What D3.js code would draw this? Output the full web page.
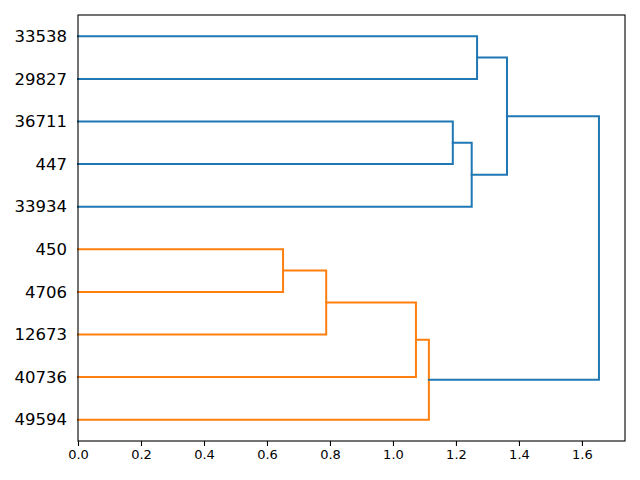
<!DOCTYPE html>
<html>
<head>
<meta charset="utf-8">
<script src="https://cdn.jsdelivr.net/npm/d3@7"></script>
<style>
  html, body { margin: 0; padding: 0; background: #fff; }
  svg { display: block; }
  text { font-family: "DejaVu Sans", sans-serif; }
</style>
</head>
<body>
<svg id="chart" width="640" height="480"></svg>
<script>
// Leaf labels, top to bottom
const leafLabels = ["33538", "29827", "36711", "447", "33934", "450", "4706", "12673", "40736", "49594"];
// Merges: node ids 0..9 are leaves, merges get ids 10, 11, ...
const mergeA = [0, 2, 11, 10, 5, 14, 15, 16, 13];
const mergeB = [1, 3, 4, 12, 6, 7, 8, 9, 17];
const mergeHeight = [1.267, 1.190, 1.250, 1.362, 0.651, 0.788, 1.073, 1.114, 1.654];
const mergeGroup = ["C0", "C0", "C0", "C0", "C1", "C1", "C1", "C1", "C0"];
const xTicks = [0.0, 0.2, 0.4, 0.6, 0.8, 1.0, 1.2, 1.4, 1.6];

const colors = { C0: "#1f77b4", C1: "#ff7f0e" };

const svg = d3.select("#chart");
const mLeft = 78, mRight = 625, mTop = 15, mBottom = 441;
const nLeaves = leafLabels.length;
const xMax = d3.max(mergeHeight) * 1.05;

const x = d3.scaleLinear().domain([0, xMax]).range([mLeft, mRight]);
const y = d3.scaleLinear().domain([0, nLeaves * 10]).range([mBottom, mTop]);

// positions
const pos = [], hgt = [];
leafLabels.forEach((l, i) => { pos[i] = (nLeaves * 10 - 5) - 10 * i; hgt[i] = 0; });
mergeA.forEach((a, k) => {
  const id = nLeaves + k, b = mergeB[k];
  pos[id] = (pos[a] + pos[b]) / 2;
  hgt[id] = mergeHeight[k];
});

const line = d3.line().x(d => x(d[0])).y(d => y(d[1]));

mergeA.forEach((a, k) => {
  const b = mergeB[k], h = mergeHeight[k];
  const pts = [[hgt[a], pos[a]], [h, pos[a]], [h, pos[b]], [hgt[b], pos[b]]];
  svg.append("path")
    .attr("d", line(pts))
    .attr("fill", "none")
    .attr("stroke", colors[mergeGroup[k]])
    .attr("stroke-width", 2)
    .attr("stroke-linejoin", "miter")
    .attr("stroke-linecap", "square");
});

// frame
svg.append("rect")
  .attr("x", mLeft).attr("y", mTop)
  .attr("width", mRight - mLeft).attr("height", mBottom - mTop)
  .attr("fill", "none").attr("stroke", "#000").attr("stroke-width", 1.1);

// x axis
const xAxis = d3.axisBottom(x).tickValues(xTicks).tickFormat(d3.format(".1f")).tickSize(5).tickPadding(4);
const gx = svg.append("g").attr("transform", `translate(0,${mBottom})`).call(xAxis);
gx.select(".domain").remove();
gx.selectAll("line").attr("stroke", "#000").attr("stroke-width", 1.1);
gx.selectAll("text").attr("font-size", 13).attr("fill", "#000").attr("font-family", "DejaVu Sans, sans-serif");

// y axis leaf labels
const yAxis = d3.axisLeft(y)
  .tickValues(pos.slice(0, nLeaves))
  .tickFormat((d, i) => leafLabels[i])
  .tickSize(0).tickPadding(11);
const gy = svg.append("g").attr("transform", `translate(${mLeft},0)`).call(yAxis);
gy.select(".domain").remove();
gy.selectAll("text").attr("font-size", 16.5).attr("fill", "#000").attr("font-family", "DejaVu Sans, sans-serif");
</script>
</body>
</html>
